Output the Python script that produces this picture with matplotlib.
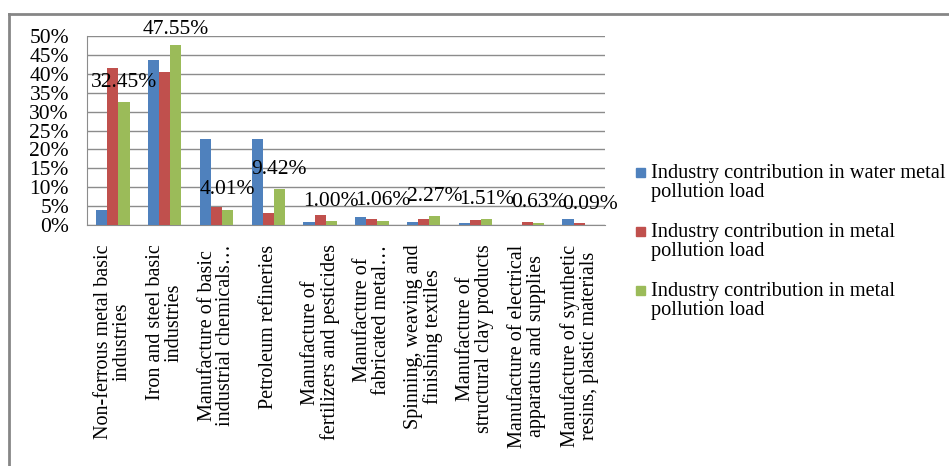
import matplotlib.pyplot as plt
import numpy as np
from matplotlib.lines import Line2D
from matplotlib.patches import Rectangle

plt.rcParams['font.family'] = 'Liberation Serif'

categories = [
    "Non-ferrous metal basic\nindustries",
    "Iron and steel basic\nindustries",
    "Manufacture of basic\nindustrial chemicals\u2026",
    "Petroleum refineries",
    "Manufacture of\nfertilizers and pesticides",
    "Manufacture of\nfabricated metal\u2026",
    "Spinning, weaving and\nfinishing textiles",
    "Manufacture of\nstructural clay products",
    "Manufacture of electrical\napparatus and supplies",
    "Manufacture of synthetic\nresins, plastic materials",
]
series_names = [
    "Industry contribution in water metal\npollution load",
    "Industry contribution in metal\npollution load",
    "Industry contribution in metal\npollution load",
]
water = [4.0, 43.6, 22.7, 22.7, 0.9, 2.1, 0.8, 0.5, 0.0, 1.6]
metal = [41.5, 40.6, 4.85, 3.1, 2.65, 1.6, 1.6, 1.3, 0.9, 0.6]
metal2 = [32.45, 47.55, 4.01, 9.42, 1.00, 1.06, 2.27, 1.51, 0.63, 0.09]
colors = ["#4F81BD", "#C0504D", "#9BBB59"]

fig = plt.figure(figsize=(9.49, 4.66), dpi=100)
ax = fig.add_axes([87 / 949, 1 - 225 / 466, 518 / 949, 189 / 466])

x = np.arange(len(categories))
w = 0.215
for i, vals in enumerate([water, metal, metal2]):
    ax.bar(x + (i - 1) * w, vals, w, color=colors[i], zorder=3)

for xi, v in zip(x, metal2):
    off = 4.3 if v > 40 else 5.3
    ax.text(xi + w, v + off, "%.2f%%" % v, ha="center", va="center", fontsize=15.5, zorder=4)

ax.set_xlim(-0.5, len(categories) - 0.5)
ax.set_ylim(0, 50)
ax.set_yticks(range(0, 51, 5))
ax.set_yticklabels(["%d%%" % t for t in range(0, 51, 5)], fontsize=15.5)
ax.tick_params(axis="y", length=0, pad=13)
ax.set_xticks(x)
ax.set_xticklabels(categories, rotation=90, fontsize=14.5, multialignment="center",
                   linespacing=1.0)
ax.tick_params(axis="x", length=0, pad=14)
ax.grid(axis="y", color="#8c8c8c", linewidth=1, zorder=0)
for s in ["top", "right"]:
    ax.spines[s].set_visible(False)
for s in ["left", "bottom"]:
    ax.spines[s].set_color("#8c8c8c")

# legend
ys = [173, 232, 291]
for name, c, yy in zip(series_names, colors, ys):
    fig.patches.append(Rectangle((636 / 949, 1 - (yy + 4) / 466), 9 / 949, 9 / 466,
                                 transform=fig.transFigure, color=c))
    fig.text(651 / 949, 1 - (yy - 9) / 466, name, ha="left", va="top", fontsize=14.7,
             linespacing=1.02)

# outer border
fig.lines.append(Line2D([9 / 949, 1], [1 - 14 / 466] * 2, transform=fig.transFigure,
                        color="#868686", linewidth=2))
fig.lines.append(Line2D([9 / 949] * 2, [0, 1 - 14 / 466], transform=fig.transFigure,
                        color="#868686", linewidth=2))

fig.savefig("out.png", dpi=100)
